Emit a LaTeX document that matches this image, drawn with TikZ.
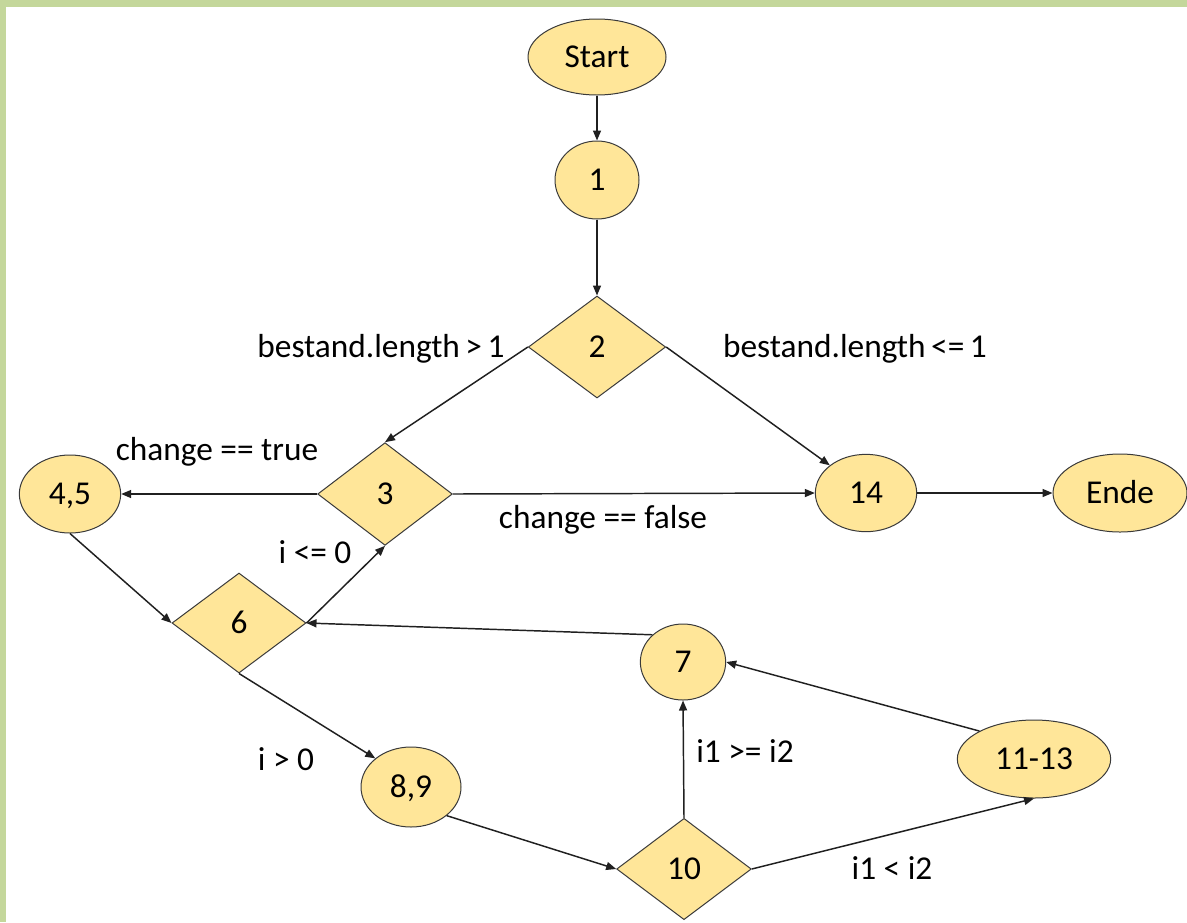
\documentclass[tikz,border=0pt]{standalone}
\usepackage{fontspec}
\setmainfont{Carlito}
\usetikzlibrary{shapes.geometric,arrows.meta}
\definecolor{boxfill}{HTML}{FFE699}
\definecolor{boxline}{HTML}{3A3A3A}
\definecolor{frame}{HTML}{C4D79B}
\definecolor{edgecol}{HTML}{202020}
\tikzset{
  base/.style={fill=boxfill,draw=boxline,line width=0.75pt,inner sep=0pt,
    font=\fontsize{25}{30}\selectfont,text height=16pt,text depth=0pt},
  oval/.style={base,ellipse},
  decision/.style={base,diamond},
  flow/.style={draw=edgecol,line width=1.1pt,-{Triangle[length=7.5pt,width=6pt]}},
  lbl/.style={inner sep=0pt,anchor=base,font=\fontsize{25}{30}\selectfont}
}
\begin{document}
\begin{tikzpicture}[x=0.75pt,y=-0.75pt]
\useasboundingbox (0,0) rectangle (1187,922);
\fill[white] (0,0) rectangle (1187,922);
\fill[frame] (0,0) rectangle (1187,7);
\fill[frame] (0,0) rectangle (6,922);

\node[oval,minimum width=103.5pt,minimum height=57pt] (start) at (597,57) {Start};
\node[oval,minimum width=63pt,minimum height=58.5pt] (n1) at (597,180) {1};
\node[decision,minimum width=103pt,minimum height=76.5pt] (n2) at (597,347) {2};
\node[decision,minimum width=101pt,minimum height=77pt] (n3) at (385,494) {3};
\node[oval,minimum width=76pt,minimum height=58.5pt] (n45) at (70,494) {4,5};
\node[decision,minimum width=100.5pt,minimum height=75pt] (n6) at (239,623) {6};
\node[oval,minimum width=64pt,minimum height=57pt] (n7) at (683,662) {7};
\node[oval,minimum width=75pt,minimum height=60pt] (n89) at (411,787) {8,9};
\node[decision,minimum width=101pt,minimum height=76pt] (n10) at (684,869) {10};
\node[oval,minimum width=115pt,minimum height=58.5pt] (n1113) at (1034,759) {11-13};
\node[oval,minimum width=76pt,minimum height=58pt] (n14) at (866,493) {14};
\node[oval,minimum width=100.5pt,minimum height=58.5pt] (ende) at (1120,493) {Ende};

\draw[flow] (start.south) -- (n1.north);
\draw[flow] (n1.south) -- (n2.north);
\draw[flow] (n2.west) -- (n3.north);
\draw[flow] (n2.east) -- (n14.north west);
\draw[flow] (n3.west) -- (n45.east);
\draw[flow] (n3.east) -- (n14.west);
\draw[flow] (n14.east) -- (ende.west);
\draw[flow] (n45.south) -- (n6.west);
\draw[flow] (n6.east) -- (n3.south);
\draw[flow] (n7.north west) -- (n6.east);
\draw[flow] (n6.south) -- (n89.north west);
\draw[flow] (n89.south east) -- (n10.west);
\draw[flow] (n10.north) -- (n7.south);
\draw[flow] (n10.east) -- (n1113.south);
\draw[flow] (n1113.north west) -- (n7.east);

\node[lbl] (l1) at (381,357) {bestand.length\,>\,1};
\node[lbl] (l2) at (855,357) {bestand.length\,<=\,1};
\node[lbl] (l3) at (217,460) {change == true};
\node[lbl] (l4) at (603,528) {change == false};
\node[lbl] (l5) at (315,563) {i <= 0};
\node[lbl] (l6) at (286,770) {i > 0};
\node[lbl] (l7) at (745,762) {i1 >= i2};
\node[lbl] (l8) at (892,879) {i1 < i2};
\end{tikzpicture}
\end{document}
